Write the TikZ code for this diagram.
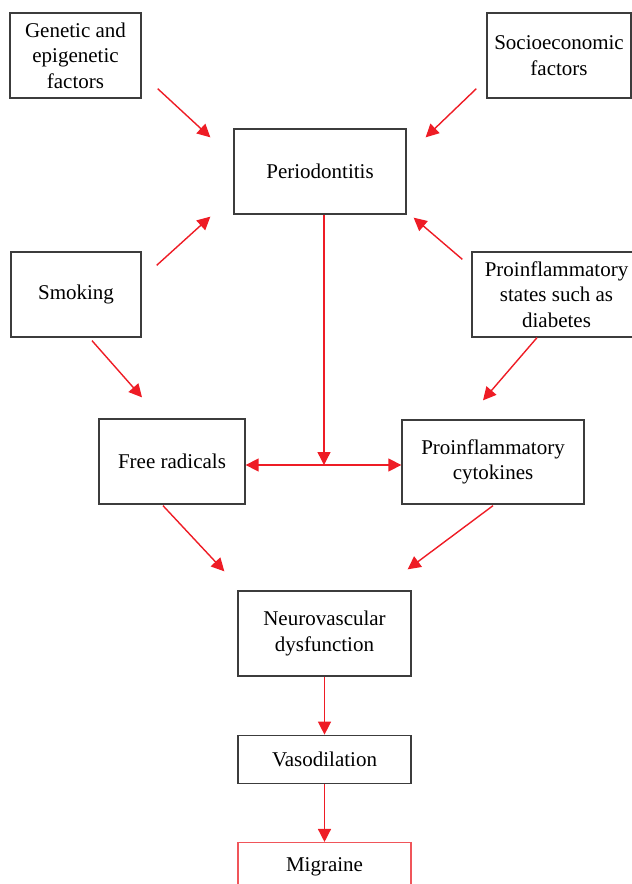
\documentclass[tikz,border=0pt]{standalone}
\usepackage{fontspec}
\setmainfont{Liberation Serif}
\usepackage{xcolor}
\usepackage{tikz}
\usetikzlibrary{positioning,calc,arrows.meta}

\definecolor{arrowred}{HTML}{EE1C25}
\definecolor{boxgray}{HTML}{3C3C3C}
\definecolor{migred}{HTML}{F0555A}

\tikzset{
	box/.style={draw=boxgray,line width=0.65pt,rectangle,align=center,inner sep=0pt,font=\fontsize{10.5}{12.75}\selectfont},
	arr/.style={draw=arrowred,line width=0.7pt,-{Triangle[length=6.5pt,width=6.5pt]}},
	arrboth/.style={draw=arrowred,line width=0.7pt,{Triangle[length=6.5pt,width=6.5pt]}-{Triangle[length=6.5pt,width=6.5pt]}}
}

\begin{document}
\begin{tikzpicture}[x=0.5pt,y=-0.5pt]
	\useasboundingbox (0,0) rectangle (632,884);
	\clip (0,0) rectangle (632,884);

	% Ursachen
	\node[box,minimum width=65.5pt,minimum height=42.5pt] (gen) at (75.5,55.5) {Genetic and\\epigenetic\\factors};
	\node[box,minimum width=72pt,minimum height=42.5pt] (socio) at (559,55.5) {Socioeconomic\\factors};
	\node[box,minimum width=86pt,minimum height=42.5pt] (perio) at (320,171.5) {Periodontitis};
	\node[box,minimum width=65pt,minimum height=42.5pt] (smoke) at (76,294.5) {Smoking};
	\node[box,minimum width=84.5pt,minimum height=42.5pt] (states) at (556.5,294.5) {Proinflammatory\\states such as\\diabetes};

	% Mediatoren
	\node[box,minimum width=73pt,minimum height=42.5pt] (free) at (172,461.5) {Free radicals};
	\node[box,minimum width=91pt,minimum height=42pt] (cyto) at (493,462) {Proinflammatory\\cytokines};
	\coordinate (junc) at (324,465);

	% Folgen
	\node[box,minimum width=86.5pt,minimum height=42.5pt] (neuro) at (324.5,633.5) {Neurovascular\\dysfunction};
	\node[box,minimum width=86.5pt,minimum height=24pt,below=29pt of neuro] (vaso) {Vasodilation};
	\node[box,draw=migred,minimum width=86.5pt,minimum height=24pt,below=29pt of vaso] (migr) {Migraine};

	% Pfeile zur Periodontitis
	\draw[arr] ($(gen.south east)+(16,-10)$) -- ($(perio.north west)+(-23,9)$);
	\draw[arr] ($(socio.south west)+(-10,-10)$) -- ($(perio.north east)+(19,9)$);
	\draw[arr] ($(smoke.north east)+(15,14)$) -- ($(perio.south west)+(-23,2)$);
	\draw[arr] ($(states.north west)+(-9,8)$) -- ($(perio.south east)+(7,3)$);

	% Pfeile zu den Mediatoren
	\draw[arr] (perio.south -| junc) -- (junc);
	\draw[arrboth] (free.east |- junc) -- (cyto.west |- junc);
	\draw[arr] ($(smoke.south)+(16,3)$) -- ($(free.north)+(-30,-21)$);
	\draw[arr] ($(states.south)+(-19.5,0)$) -- ($(cyto.north)+(-10,-19)$);

	% Pfeile nach unten
	\draw[arr] ($(free.south)+(-9,1)$) -- ($(neuro.north west)+(-13,-19)$);
	\draw[arr] ($(cyto.south)+(0,1)$) -- ($(neuro.north east)+(-4,-21)$);
	\draw[arr] (neuro) -- (vaso);
	\draw[arr] (vaso) -- (migr);
\end{tikzpicture}
\end{document}
